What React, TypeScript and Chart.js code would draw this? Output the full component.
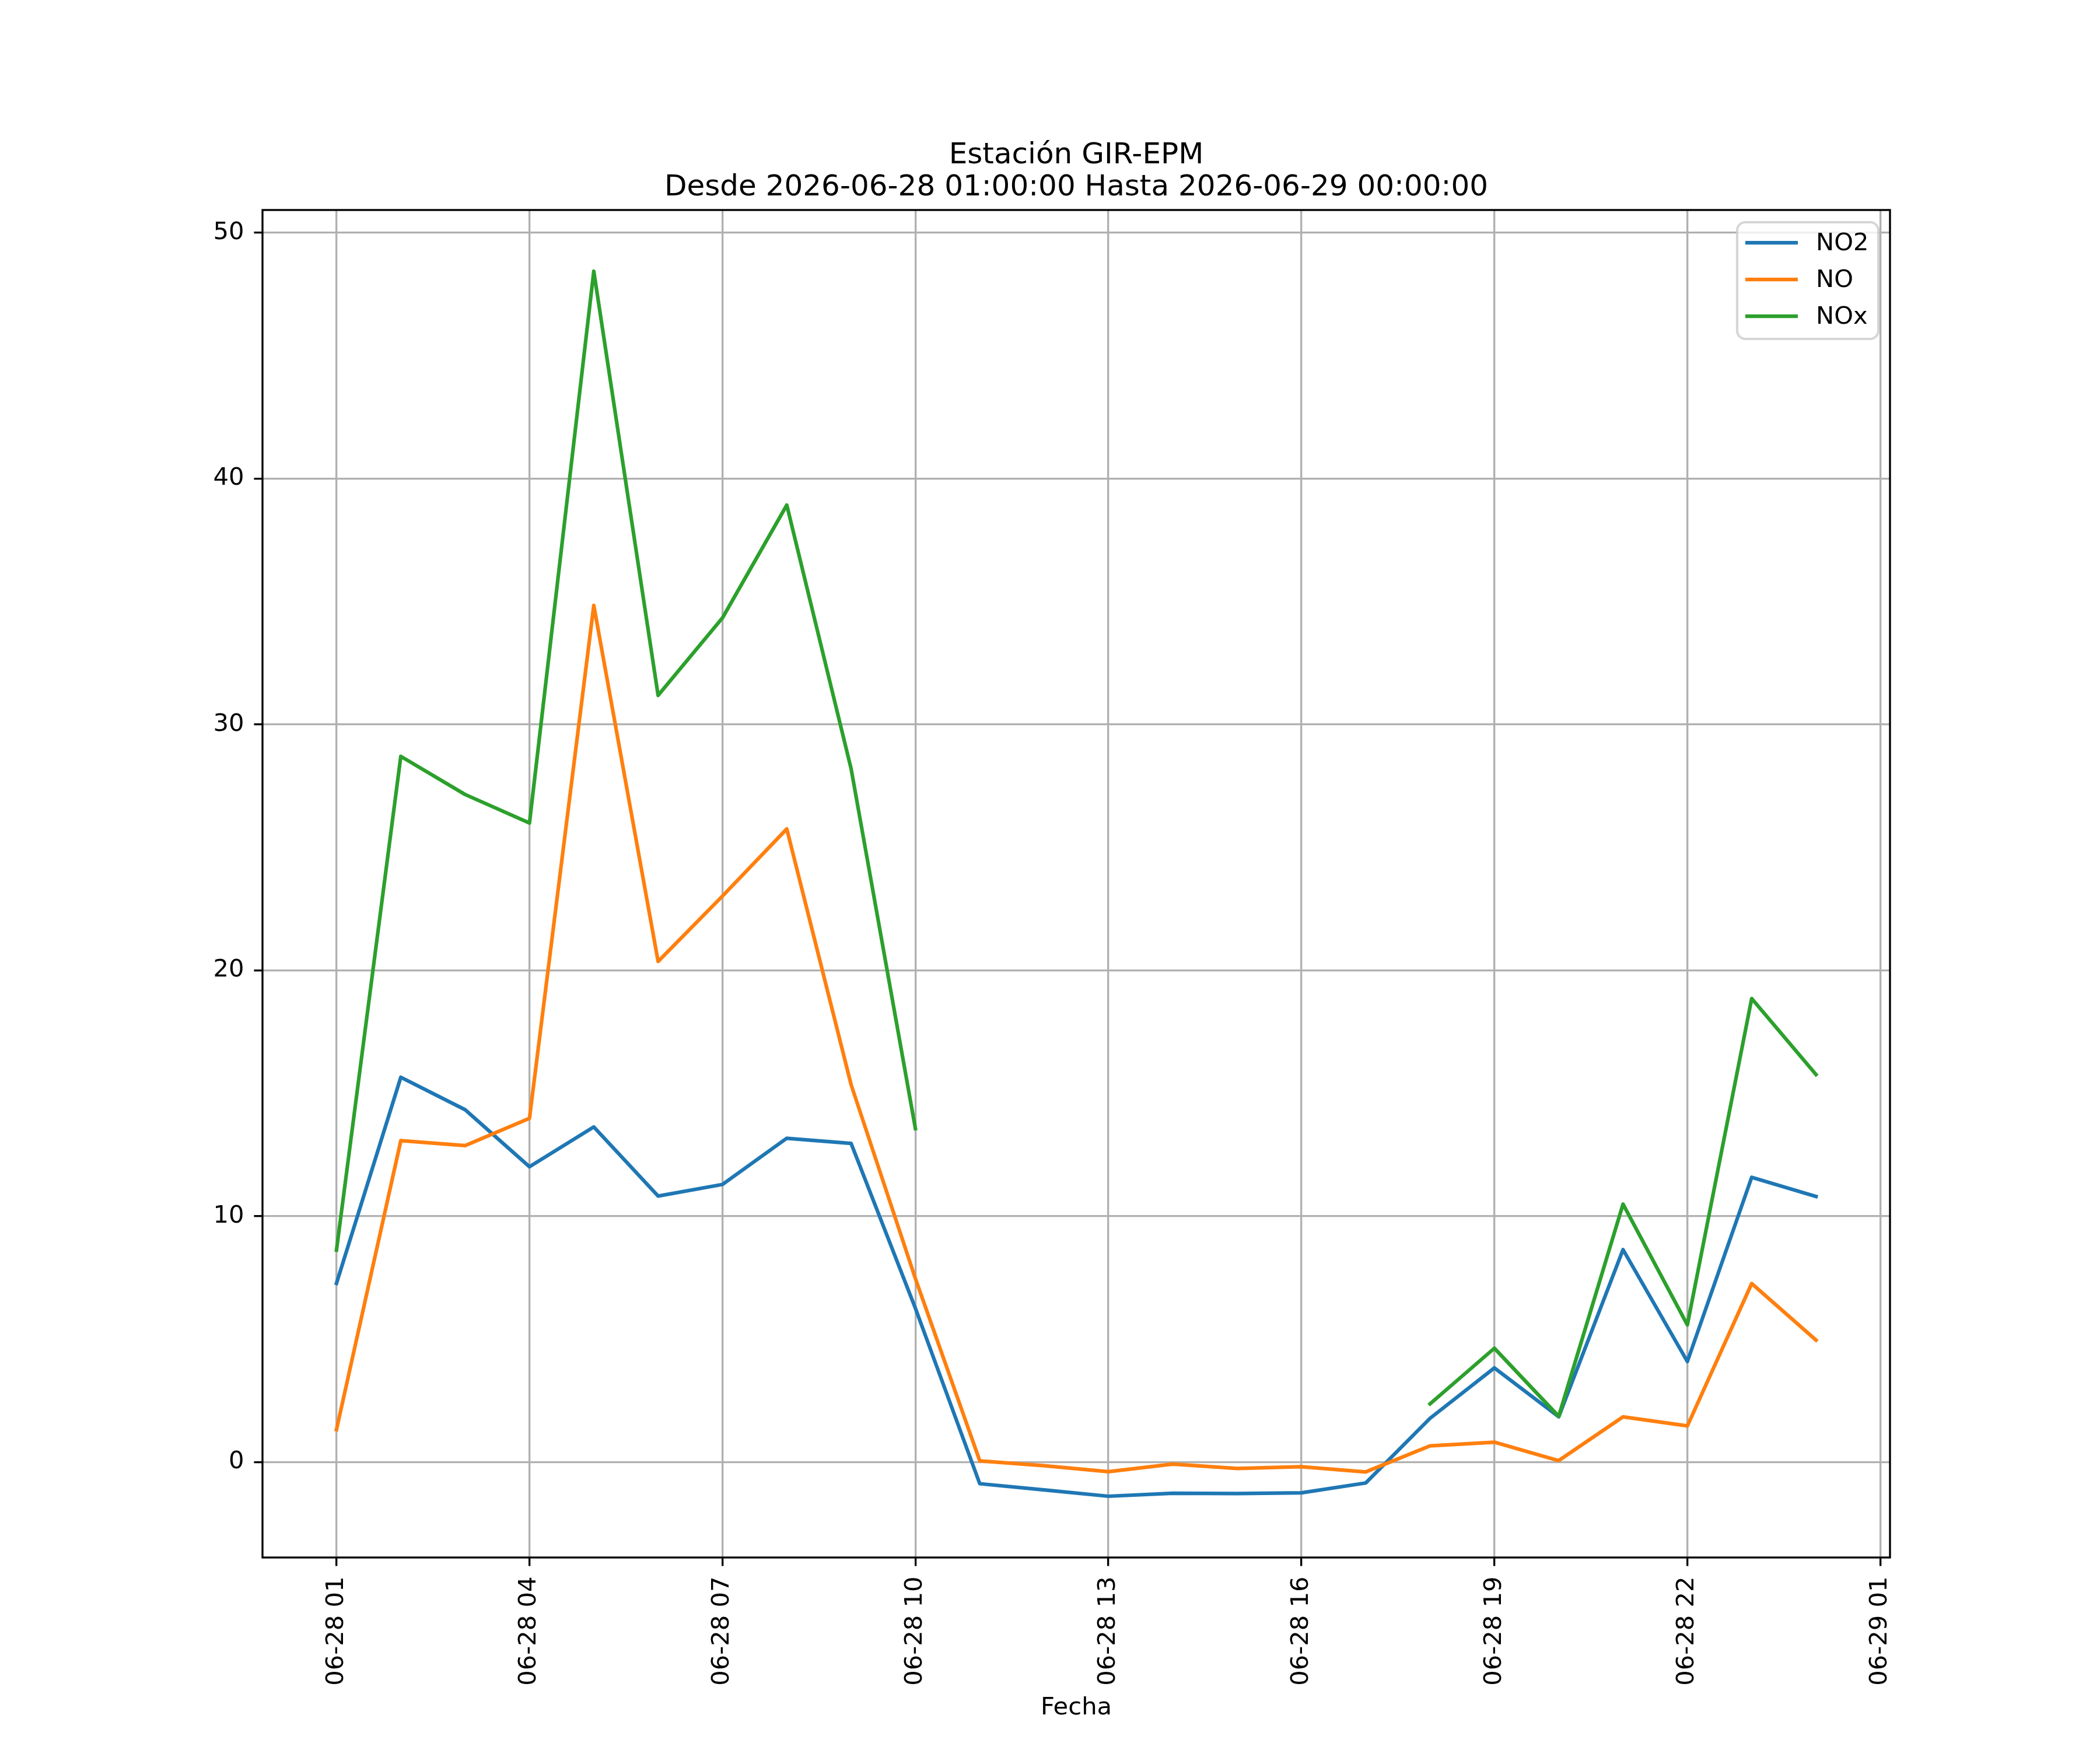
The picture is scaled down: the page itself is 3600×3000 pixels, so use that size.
import { useEffect, useRef } from 'react';
import { Chart, registerables } from 'chart.js';

Chart.register(...registerables);

// matplotlib points -> pixels at 300 dpi
const PT = 300 / 72;
const FONT = '"DejaVu Sans", "Liberation Sans", sans-serif';

const times = [
  '2026-06-28 01:00', '2026-06-28 02:00', '2026-06-28 03:00', '2026-06-28 04:00',
  '2026-06-28 05:00', '2026-06-28 06:00', '2026-06-28 07:00', '2026-06-28 08:00',
  '2026-06-28 09:00', '2026-06-28 10:00', '2026-06-28 11:00', '2026-06-28 12:00',
  '2026-06-28 13:00', '2026-06-28 14:00', '2026-06-28 15:00', '2026-06-28 16:00',
  '2026-06-28 17:00', '2026-06-28 18:00', '2026-06-28 19:00', '2026-06-28 20:00',
  '2026-06-28 21:00', '2026-06-28 22:00', '2026-06-28 23:00', '2026-06-29 00:00',
];

const no2 = [
  7.27, 15.65, 14.33, 12.01, 13.63, 10.82, 11.29, 13.17, 12.96, 6.25, -0.88, -1.13,
  -1.39, -1.27, -1.28, -1.25, -0.85, 1.78, 3.83, 1.84, 8.64, 4.09, 11.58, 10.8,
];

const no = [
  1.32, 13.07, 12.87, 13.98, 34.84, 20.36, 23.02, 25.75, 15.35, 7.46, 0.05, -0.15,
  -0.39, -0.08, -0.26, -0.19, -0.4, 0.66, 0.81, 0.06, 1.84, 1.47, 7.26, 4.96,
];

const nox = [
  8.62, 28.7, 27.15, 25.99, 48.43, 31.18, 34.33, 38.92, 28.2, 13.56, null, null,
  null, null, null, null, null, 2.37, 4.63, 1.86, 10.49, 5.58, 18.85, 15.76,
];

const xTickValues = [0, 3, 6, 9, 12, 15, 18, 21, 24];
const xTickLabels = [
  '06-28 01', '06-28 04', '06-28 07', '06-28 10', '06-28 13',
  '06-28 16', '06-28 19', '06-28 22', '06-29 01',
];
const yTickValues = [0, 10, 20, 30, 40, 50];

const titleLines = ['Estación GIR-EPM', 'Desde 2026-06-28 01:00:00 Hasta 2026-06-29 00:00:00'];

const toPoints = (vals: (number | null)[]) => vals.map((y, i) => ({ x: i, y }));

// frame, title and legend drawn like matplotlib
const decor = {
  id: 'decor',
  afterDatasetsDraw(chart: Chart) {
    const { ctx, chartArea: a } = chart;
    ctx.save();

    ctx.strokeStyle = '#000';
    ctx.lineWidth = 0.8 * PT;
    ctx.strokeRect(a.left, a.top, a.right - a.left, a.bottom - a.top);

    ctx.fillStyle = '#000';
    ctx.font = `${12 * PT}px ${FONT}`;
    ctx.textAlign = 'center';
    ctx.textBaseline = 'alphabetic';
    const cx = (a.left + a.right) / 2;
    ctx.fillText(titleLines[0], cx, a.top - 80);
    ctx.fillText(titleLines[1], cx, a.top - 25);

    // legend box
    const bx = a.right - 262;
    const by = a.top + 21;
    const bw = 242;
    const bh = 200;
    ctx.beginPath();
    ctx.roundRect(bx, by, bw, bh, 14);
    ctx.fillStyle = 'rgba(255,255,255,0.8)';
    ctx.fill();
    ctx.strokeStyle = 'rgba(204,204,204,0.8)';
    ctx.lineWidth = 1 * PT;
    ctx.stroke();

    ctx.font = `${10 * PT}px ${FONT}`;
    ctx.textAlign = 'left';
    ctx.textBaseline = 'middle';
    chart.data.datasets.forEach((ds, i) => {
      const y = a.top + 56 + i * 63;
      ctx.beginPath();
      ctx.moveTo(bx + 14, y);
      ctx.lineTo(bx + 104, y);
      ctx.strokeStyle = ds.borderColor as string;
      ctx.lineWidth = 1.5 * PT;
      ctx.stroke();
      ctx.fillStyle = '#000';
      ctx.fillText(ds.label as string, bx + 135, y + 2);
    });

    ctx.restore();
  },
};

export default function App() {
  const canvasRef = useRef<HTMLCanvasElement>(null);

  useEffect(() => {
    document.body.style.margin = '0';
    if (!canvasRef.current) return;

    const all = [...no2, ...no, ...nox].filter((v) => v !== null) as number[];
    const lo = Math.min(...all);
    const hi = Math.max(...all);
    const yPad = (hi - lo) * 0.05;
    const n = times.length - 1;

    const line = (label: string, data: (number | null)[], color: string, order: number) => ({
      label,
      data: toPoints(data),
      borderColor: color,
      backgroundColor: color,
      borderWidth: 1.5 * PT,
      pointRadius: 0,
      tension: 0,
      spanGaps: false,
      borderCapStyle: 'square' as const,
      borderJoinStyle: 'round' as const,
      order,
    });

    const chart = new Chart(canvasRef.current, {
      type: 'line',
      data: {
        datasets: [
          line('NO2', no2, '#1f77b4', 2),
          line('NO', no, '#ff7f0e', 1),
          line('NOx', nox, '#2ca02c', 0),
        ],
      },
      options: {
        animation: false,
        responsive: false,
        devicePixelRatio: 1,
        layout: { padding: { top: 360, right: 360, left: 0, bottom: 0 } },
        plugins: {
          legend: { display: false },
          tooltip: { enabled: false },
          title: { display: false },
        },
        scales: {
          x: {
            type: 'linear',
            min: -0.05 * n,
            max: n * 1.05,
            afterFit: (s: any) => {
              s.height = 330;
            },
            afterBuildTicks: (s: any) => {
              s.ticks = xTickValues.map((value) => ({ value }));
            },
            grid: {
              color: '#b0b0b0',
              lineWidth: 0.8 * PT,
              tickLength: 3.5 * PT,
              tickColor: '#000',
              tickWidth: 0.8 * PT,
            },
            border: { display: false },
            ticks: {
              autoSkip: false,
              minRotation: 90,
              maxRotation: 90,
              padding: 18,
              color: '#000',
              font: { family: FONT, size: 10 * PT },
              callback: (v: any) => xTickLabels[xTickValues.indexOf(Number(v))],
            },
            title: {
              display: true,
              text: 'Fecha',
              color: '#000',
              font: { family: FONT, size: 10 * PT },
              padding: { top: 0, bottom: 47 },
            },
          },
          y: {
            type: 'linear',
            min: lo - yPad,
            max: hi + yPad,
            afterFit: (s: any) => {
              s.width = 450;
            },
            afterBuildTicks: (s: any) => {
              s.ticks = yTickValues.map((value) => ({ value }));
            },
            grid: {
              color: '#b0b0b0',
              lineWidth: 0.8 * PT,
              tickLength: 3.5 * PT,
              tickColor: '#000',
              tickWidth: 0.8 * PT,
            },
            border: { display: false },
            ticks: {
              padding: 17,
              color: '#000',
              font: { family: FONT, size: 10 * PT },
            },
          },
        },
      },
      plugins: [decor],
    });

    return () => chart.destroy();
  }, []);

  return (
    <div style={{ width: 3600, height: 3000, background: '#fff' }}>
      <canvas ref={canvasRef} width={3600} height={3000} />
    </div>
  );
}
